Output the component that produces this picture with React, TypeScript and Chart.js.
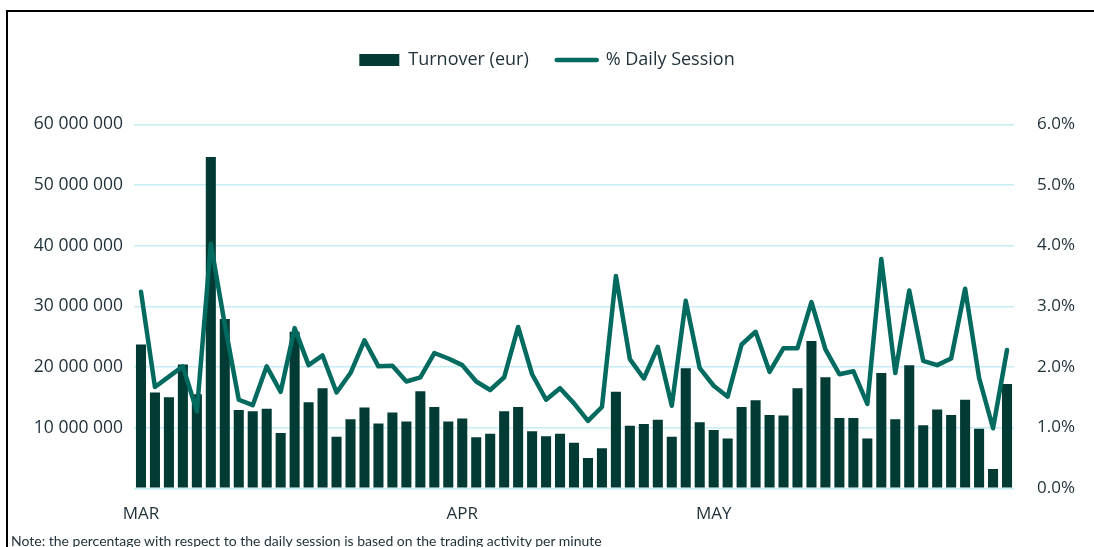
import React, { useEffect, useRef } from 'react';
import { Chart, registerables } from 'chart.js';

Chart.register(...registerables);

// Trading days (2023)
const marchDays = [1, 2, 3, 6, 7, 8, 9, 10, 13, 14, 15, 16, 17, 20, 21, 22, 23, 24, 27, 28, 29, 30, 31];
const aprilDays = [3, 4, 5, 6, 11, 12, 13, 14, 17, 18, 19, 20, 21, 24, 25, 26, 27, 28];
const mayDays = [2, 3, 4, 5, 8, 9, 10, 11, 12, 15, 16, 17, 18, 19, 22, 23, 24, 25, 26, 29, 30, 31];
const monthTickLabels = ['MAR', 'APR', 'MAY'];

// Turnover (eur)
const turnoverMar = [
  23700000, 15800000, 15000000, 20400000, 15500000, 54600000, 27900000, 12900000, 12700000, 13100000,
  9100000, 25800000, 14200000, 16500000, 8500000, 11400000, 13300000, 10700000, 12500000, 11000000,
  16000000, 13400000, 11000000,
];
const turnoverApr = [
  11500000, 8400000, 9000000, 12700000, 13400000, 9400000, 8600000, 9000000, 7500000, 5000000,
  6600000, 15900000, 10300000, 10600000, 11300000, 8500000, 19800000, 10900000,
];
const turnoverMay = [
  9600000, 8200000, 13400000, 14500000, 12100000, 12000000, 16500000, 24300000, 18300000, 11600000,
  11600000, 8200000, 19000000, 11400000, 20300000, 10400000, 13000000, 12100000, 14600000, 9800000,
  3200000, 17200000,
];

// % Daily Session
const pctMar = [
  3.24, 1.67, 1.84, 2.01, 1.27, 4.03, 2.7, 1.46, 1.37, 2.01, 1.59, 2.64, 2.03, 2.19, 1.58, 1.9, 2.44,
  2.01, 2.02, 1.76, 1.83, 2.23, 2.14,
];
const pctApr = [
  2.03, 1.76, 1.62, 1.83, 2.66, 1.88, 1.46, 1.65, 1.4, 1.11, 1.34, 3.5, 2.13, 1.81, 2.33, 1.36, 3.09, 1.98,
];
const pctMay = [
  1.69, 1.51, 2.37, 2.58, 1.92, 2.31, 2.31, 3.07, 2.29, 1.88, 1.93, 1.39, 3.78, 1.9, 3.26, 2.1, 2.03,
  2.14, 3.29, 1.82, 0.99, 2.28,
];

const leftTickMax = 60000000;
const leftTickStep = 10000000;
const rightTickMax = 6;
const rightTickStep = 1;

const BAR_COLOR = '#013b34';
const LINE_COLOR = '#026a5e';
const TEXT_COLOR = '#1f3038';
const GRID_COLOR = '#c6edf4';

const pad2 = (n: number) => (n < 10 ? '0' + n : String(n));
const categories: string[] = [
  ...marchDays.map((d) => `2023-03-${pad2(d)}`),
  ...aprilDays.map((d) => `2023-04-${pad2(d)}`),
  ...mayDays.map((d) => `2023-05-${pad2(d)}`),
];
const turnover = [...turnoverMar, ...turnoverApr, ...turnoverMay];
const pct = [...pctMar, ...pctApr, ...pctMay];

const W = 1094;
const H = 547;
const AREA_LEFT = 134;
const AREA_RIGHT = 1014;
const AREA_TOP = 124.3;
const AREA_BOTTOM = 488.3;
const PAD_TOP = 23;
const X_AXIS_H = 40;

const legendFit = {
  id: 'legendFit',
  beforeInit(chart: any) {
    const lg = chart.legend;
    if (!lg) return;
    const orig = lg.fit;
    lg.fit = function () {
      orig.call(this);
      this.height = AREA_TOP - PAD_TOP;
    };
  },
};

export default function App() {
  const ref = useRef<HTMLCanvasElement | null>(null);

  useEffect(() => {
    if (!ref.current) return;
    document.body.style.margin = '0';
    const chart = new Chart(ref.current, {
      type: 'bar',
      data: {
        labels: categories,
        datasets: [
          {
            type: 'bar',
            label: 'Turnover (eur)',
            data: turnover,
            backgroundColor: BAR_COLOR,
            borderWidth: 0,
            yAxisID: 'y',
            order: 2,
            barPercentage: 0.72,
            categoryPercentage: 1,
          },
          {
            type: 'line',
            label: '% Daily Session',
            data: pct,
            borderColor: LINE_COLOR,
            backgroundColor: LINE_COLOR,
            borderWidth: 4.5,
            pointRadius: 0,
            tension: 0,
            borderJoinStyle: 'round',
            borderCapStyle: 'round',
            yAxisID: 'y1',
            order: 1,
          } as any,
        ],
      },
      options: {
        responsive: false,
        animation: false,
        layout: {
          padding: { top: PAD_TOP, left: 0, right: 0, bottom: H - AREA_BOTTOM - X_AXIS_H },
        },
        font: { family: "'Open Sans', sans-serif" },
        plugins: {
          tooltip: { enabled: false },
          legend: {
            display: true,
            position: 'top',
            labels: {
              color: TEXT_COLOR,
              font: { family: "'Open Sans', sans-serif", size: 18 },
              usePointStyle: true,
              pointStyleWidth: 40,
              boxHeight: 12,
              padding: 28,
              generateLabels: (c: any) => {
                const items = (Chart.defaults.plugins.legend.labels as any).generateLabels(c);
                items.forEach((it: any) => {
                  if (it.datasetIndex === 0) {
                    it.pointStyle = 'rect';
                    it.lineWidth = 0;
                    it.fillStyle = BAR_COLOR;
                    it.strokeStyle = BAR_COLOR;
                  } else {
                    it.pointStyle = 'line';
                    it.lineWidth = 4.5;
                    it.strokeStyle = LINE_COLOR;
                    it.lineCap = 'round';
                  }
                });
                return items.sort((a: any, b: any) => a.datasetIndex - b.datasetIndex);
              },
            },
          },
        },
        scales: {
          x: {
            type: 'category',
            offset: true,
            grid: { display: false },
            border: { display: false },
            afterFit: (s: any) => {
              s.height = X_AXIS_H;
            },
            ticks: {
              autoSkip: false,
              maxRotation: 0,
              minRotation: 0,
              padding: 8,
              color: TEXT_COLOR,
              font: { family: "'Open Sans', sans-serif", size: 17 },
              callback: (_v: any, i: number) => {
                const m = Number(categories[i].slice(5, 7));
                const prev = i > 0 ? Number(categories[i - 1].slice(5, 7)) : -1;
                return m !== prev ? monthTickLabels[m - 3] : '';
              },
            },
          },
          y: {
            position: 'left',
            min: 0,
            max: leftTickMax,
            grid: { color: GRID_COLOR, lineWidth: 1.4, drawTicks: false },
            border: { display: false },
            afterFit: (s: any) => {
              s.width = AREA_LEFT;
            },
            ticks: {
              stepSize: leftTickStep,
              padding: 11,
              color: TEXT_COLOR,
              font: { family: "'Open Sans', sans-serif", size: 17.5 },
              callback: (v: any) =>
                Number(v) === 0 ? '' : String(v).replace(/\B(?=(\d{3})+(?!\d))/g, ' '),
            },
          },
          y1: {
            position: 'right',
            min: 0,
            max: rightTickMax,
            grid: { display: false, drawTicks: false },
            border: { display: false },
            afterFit: (s: any) => {
              s.width = W - AREA_RIGHT;
            },
            ticks: {
              stepSize: rightTickStep,
              padding: 23,
              color: TEXT_COLOR,
              font: { family: "'Open Sans', sans-serif", size: 17 },
              callback: (v: any) => Number(v).toFixed(1) + '%',
            },
          },
        },
      } as any,
      plugins: [legendFit],
    });
    return () => chart.destroy();
  }, []);

  return (
    <div style={{ position: 'absolute', left: 0, top: 0, width: W, height: H, overflow: 'hidden', background: '#fff' }}>
      <div style={{ position: 'absolute', left: 6, top: 10, width: W - 6, height: 2, background: '#000' }} />
      <div style={{ position: 'absolute', left: 6, top: 10, width: 2, height: H - 10, background: '#000' }} />
      <canvas ref={ref} width={W} height={H} style={{ position: 'absolute', left: 0, top: 0, width: W, height: H }} />
      <div
        style={{
          position: 'absolute',
          left: 11,
          top: 534,
          fontFamily: 'Lato, sans-serif',
          fontSize: 14,
          lineHeight: '14px',
          color: TEXT_COLOR,
          whiteSpace: 'nowrap',
        }}
      >
        Note: the percentage with respect to the daily session is based on the trading activity per minute
      </div>
    </div>
  );
}
